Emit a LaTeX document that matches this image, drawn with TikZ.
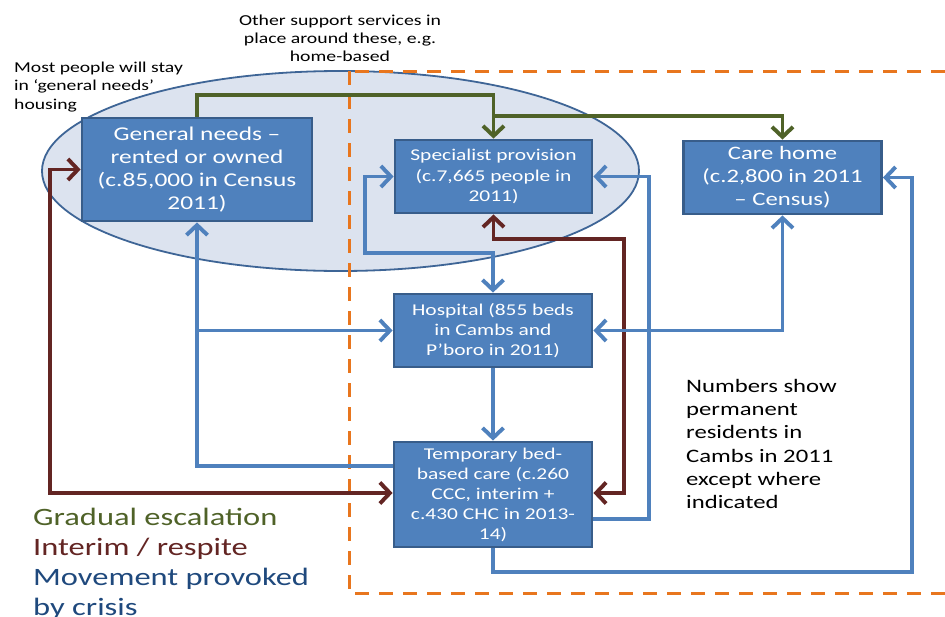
\documentclass[tikz,border=0pt]{standalone}
\usepackage{fontspec}
\setmainfont[FakeStretch=1.3]{Carlito}
\usetikzlibrary{arrows.meta}
\definecolor{boxfill}{HTML}{4F81BD}
\definecolor{boxline}{HTML}{385D8A}
\definecolor{ellfill}{HTML}{DCE3EF}
\definecolor{ellline}{HTML}{3E6596}
\definecolor{orng}{HTML}{E8761E}
\definecolor{grn}{HTML}{4F6228}
\definecolor{dred}{HTML}{632523}
\definecolor{blu}{HTML}{4F81BD}
\definecolor{legblue}{HTML}{1F497D}
\begin{document}
\begin{tikzpicture}[x=1pt,y=-1pt,
  box/.style={draw=boxline,fill=boxfill,line width=2.8pt,text=white,align=center,inner sep=0pt},
  endtip/.style={-{Straight Barb[length=10pt,width=21pt]}},
  bothtips/.style={{Straight Barb[length=10pt,width=21pt]}-{Straight Barb[length=10pt,width=21pt]}},
  bluline/.style={draw=blu,line width=3.9pt},
  redline/.style={draw=dred,line width=3.9pt},
  grnline/.style={draw=grn,line width=3.9pt},
  note/.style={inner sep=0pt,text=black}]
\useasboundingbox (0,0) rectangle (945,616);
\clip (0,0) rectangle (945,616);
% ellipse (general needs housing)
\draw[fill=ellfill,draw=ellline,line width=1.8pt] (340.5,171) ellipse [x radius=298.5pt, y radius=100pt];
% dashed orange frame
\draw[orng,line width=3pt,dash pattern=on 14pt off 10pt] (349,71) rectangle (965,593);
% boxes
\node[box,minimum width=230,minimum height=103,font=\fontsize{19.5}{23}\selectfont] (gn) at (197,169.5)
  {General needs –\\rented or owned\\(c.85,000 in Census\\2011)};
\node[box,minimum width=197,minimum height=73,font=\fontsize{16.5}{20.3}\selectfont] (sp) at (493.5,176.5)
  {Specialist provision\\(c.7,665 people in\\2011)};
\node[box,minimum width=198,minimum height=73,font=\fontsize{19}{23}\selectfont] (ch) at (782.5,177.5)
  {Care home\\(c.2,800 in 2011\\– Census)};
\node[box,minimum width=198,minimum height=73,font=\fontsize{16.5}{20}\selectfont] (ho) at (493,330.5)
  {Hospital (855 beds\\in Cambs and\\P’boro in 2011)};
\node[box,minimum width=198,minimum height=105,font=\fontsize{16.5}{20}\selectfont] (tb) at (493,494.5)
  {Temporary bed-\\based care (c.260\\CCC, interim +\\c.430 CHC in 2013-\\14)};
% notes
\node[note,anchor=north,align=center,font=\fontsize{15.2}{18}\selectfont] (other) at (340,14.5)
  {Other support services in\\place around these, e.g.\\home-based};
\node[note,anchor=north west,align=left,font=\fontsize{15.1}{18.3}\selectfont] (most) at (14,62)
  {Most people will stay\\in ‘general needs’\\housing};
\node[note,anchor=north west,align=left,font=\fontsize{19}{23.3}\selectfont] (numbers) at (686,379)
  {Numbers show\\permanent\\residents in\\Cambs in 2011\\except where\\indicated};
% legend
\node[inner sep=0pt,anchor=base west,text=grn,font=\fontsize{25}{30}\selectfont] (lg1) at (33,525) {Gradual escalation};
\node[inner sep=0pt,anchor=base west,text=dred,font=\fontsize{25}{30}\selectfont] (lg2) at (33,555) {Interim / respite};
\node[inner sep=0pt,anchor=north west,align=left,text=legblue,font=\fontsize{25}{30}\selectfont] (lg3) at (33,567.5) {Movement provoked\\by crisis};
% green: gradual escalation
\draw[grnline,endtip] (gn.north) |- (sp.north |- 0,95) -- (sp.north);
\draw[grnline,endtip] (sp.north |- 0,116) -| (ch.north);
% red: interim / respite
\draw[redline,bothtips] (gn.west) -| (50,493) -- (tb.west |- 0,493);
\draw[redline,bothtips] (sp.south) |- (624,239) |- (tb.east |- 0,493);
% blue: crisis
\draw[bluline,bothtips] (sp.west) -| (365,253) -| (ho.north);
\draw[bluline,endtip] (ho.south) -- (tb.north);
\draw[bluline,endtip] (tb.west |- 0,466) -| (gn.south);
\draw[bluline,endtip] (gn.south |- ho.west) -- (ho.west);
\draw[bluline,bothtips] (ho.east) -| (ch.south);
\draw[bluline,endtip] (tb.east |- 0,519) -| (649,300) |- (sp.east);
\draw[bluline,endtip] (tb.south) |- (912,572) |- (ch.east);
\end{tikzpicture}
\end{document}
